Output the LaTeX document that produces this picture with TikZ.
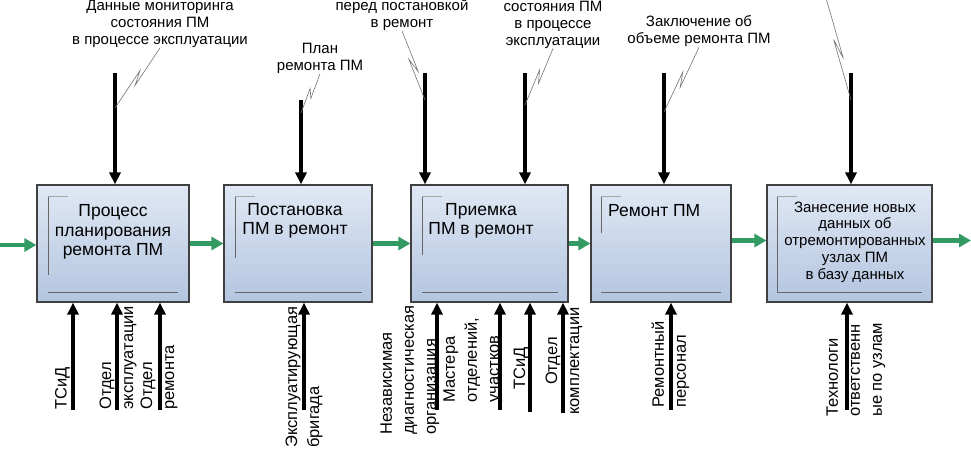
\documentclass[tikz,border=0pt]{standalone}
\usepackage{fontspec}
\setmainfont{Liberation Sans}
\usetikzlibrary{arrows.meta,calc}
\definecolor{flowgreen}{HTML}{329A62}
\definecolor{boxtop}{HTML}{E0E8F4}
\definecolor{boxbot}{HTML}{B3C5E0}
\newcommand{\squig}[2]{\draw[leader] (#1) -- ($(#1)!0.6!(#2)!2.5pt!90:(#2)$) -- ($(#1)!0.4!(#2)!2.5pt!-90:(#2)$) -- (#2);}
\begin{document}
\begin{tikzpicture}[x=1pt,y=-1pt,
    proc/.style={draw=black!75,line width=1.2pt,top color=boxtop,bottom color=boxbot,minimum height=117pt,inner sep=0pt},
    ptext/.style={align=center,font=\fontsize{17.5}{19.5}\selectfont,inner sep=0pt},
    toplab/.style={align=center,font=\fontsize{15}{17}\selectfont,inner sep=0pt},
    botlab/.style={rotate=90,anchor=west,align=left,font=\fontsize{16.5}{22}\selectfont,inner sep=0pt},
    ctrl/.style={line width=3.2pt,-{Triangle[length=12pt,width=11pt]}},
    flow/.style={flowgreen,line width=4.2pt,-{Triangle[length=12pt,width=13pt]}},
    leader/.style={black!55,line width=0.6pt},
    inframe/.style={black!60,line width=0.8pt}]
  \useasboundingbox (0,0) rectangle (971,451);
  \node[proc,minimum width=152pt] (1) at (113,243.5) {};
  \node[proc,minimum width=148pt] (2) at (298,243.5) {};
  \node[proc,minimum width=157pt] (3) at (489.5,243.5) {};
  \node[proc,minimum width=140pt] (4) at (661,243.5) {};
  \node[proc,minimum width=165pt] (5) at (849.5,243.5) {};
  \foreach \xa/\xb/\ya in {48/178/275,235/362/258,422/558/255,601/721/233,777/922/292} {
    \draw[inframe] (\xa,196) -- (\xa,\ya);
    \draw[inframe,black!35] (\xa,196) -- ++(20,0);
    \draw[inframe] (\xa,292) -- (\xb,292);
  }
  \node[ptext] (t1) at (113,232) {Процесс\\планирования\\ремонта ПМ};
  \node[ptext] (t2) at (295,221) {Постановка\\ПМ в ремонт};
  \node[ptext] (t3) at (481,221) {Приемка\\ПМ в ремонт};
  \node[ptext,anchor=west] (t4) at (608,211) {Ремонт ПМ};
  \node[ptext,font=\fontsize{15}{16.7}\selectfont] (t5) at (855,242) {Занесение новых\\данных об\\отремонтированных\\узлах ПМ\\в базу данных};
  \coordinate (in) at (0,245);
  \coordinate (out) at (971,240.5);
  \begin{scope}[flow]
    \draw (in) -- (in -| 1.west);
    \draw (1.east) -- (2.west);
    \draw (2.east) -- (3.west);
    \draw (3.east) -- (4.west);
    \draw ([yshift=3pt]4.east) -- ([yshift=3pt]5.west);
    \draw ([yshift=3pt]5.east) -- (out);
  \end{scope}
  \foreach \n/\x/\y/\b in {1/115/73/1,2/301/100/2,3/425/73/3,4/525/73/3,5/664/73/4,6/851/73/5} {
    \coordinate (c\n) at (\x,\y);
    \draw[ctrl] (c\n) -- (c\n |- \b.north);
  }
  \foreach \n/\x/\y/\b in {1/73/410/1,2/117/410/1,3/160/410/1,4/304/410/2,5/437/410/3,6/500/410/3,7/530/412/3,8/563/413/3,9/671/410/4,10/847/410/5} {
    \coordinate (m\n) at (\x,\y);
    \draw[ctrl] (m\n) -- (m\n |- \b.south);
  }
  \node[toplab] (l1) at (160,24) {Данные мониторинга\\состояния ПМ\\в процессе эксплуатации};
  \node[toplab] (l2) at (320,58.5) {План\\ремонта ПМ};
  \node[toplab] (l3) at (402,15) {перед постановкой\\в ремонт};
  \node[toplab] (l4) at (553,24.5) {состояния ПМ\\в процессе\\эксплуатации};
  \node[toplab] (l5) at (699,31.5) {Заключение об\\объеме ремонта ПМ};
  \coordinate (k1) at (115,108);
  \coordinate (k2) at (301,113);
  \coordinate (k3) at (425,100);
  \coordinate (k4) at (525,105);
  \coordinate (k5) at (664,112);
  \coordinate (k6) at (851,100);
  \coordinate (e6) at (826,-2);
  \squig{k1}{l1.south}
  \squig{k2}{l2.south}
  \squig{k3}{l3.south}
  \squig{k4}{l4.south}
  \squig{k5}{l5.south}
  \squig{k6}{e6}
  \node[botlab] (r1) at (62.5,410) {ТСиД};
  \node[botlab] (r2) at (118,410) {Отдел\\эксплуатации};
  \node[botlab] (r3) at (159,410) {Отдел\\ремонта};
  \node[botlab] (r4) at (304,448) {Эксплуатирующая\\бригада};
  \node[botlab] (r5) at (410,435) {Независимая\\диагностическая\\организация};
  \node[botlab] (r6) at (473,403) {Мастера\\отделений,\\участков};
  \node[botlab] (r7) at (521,390) {ТСиД};
  \node[botlab,align=center,anchor=center] (r8) at (564,361) {Отдел\\комплектации};
  \node[botlab] (r9) at (670.5,408) {Ремонтный\\персонал};
  \node[botlab] (r10) at (856,417) {Технологи\\ответственн\\ые по узлам};
\end{tikzpicture}
\end{document}
